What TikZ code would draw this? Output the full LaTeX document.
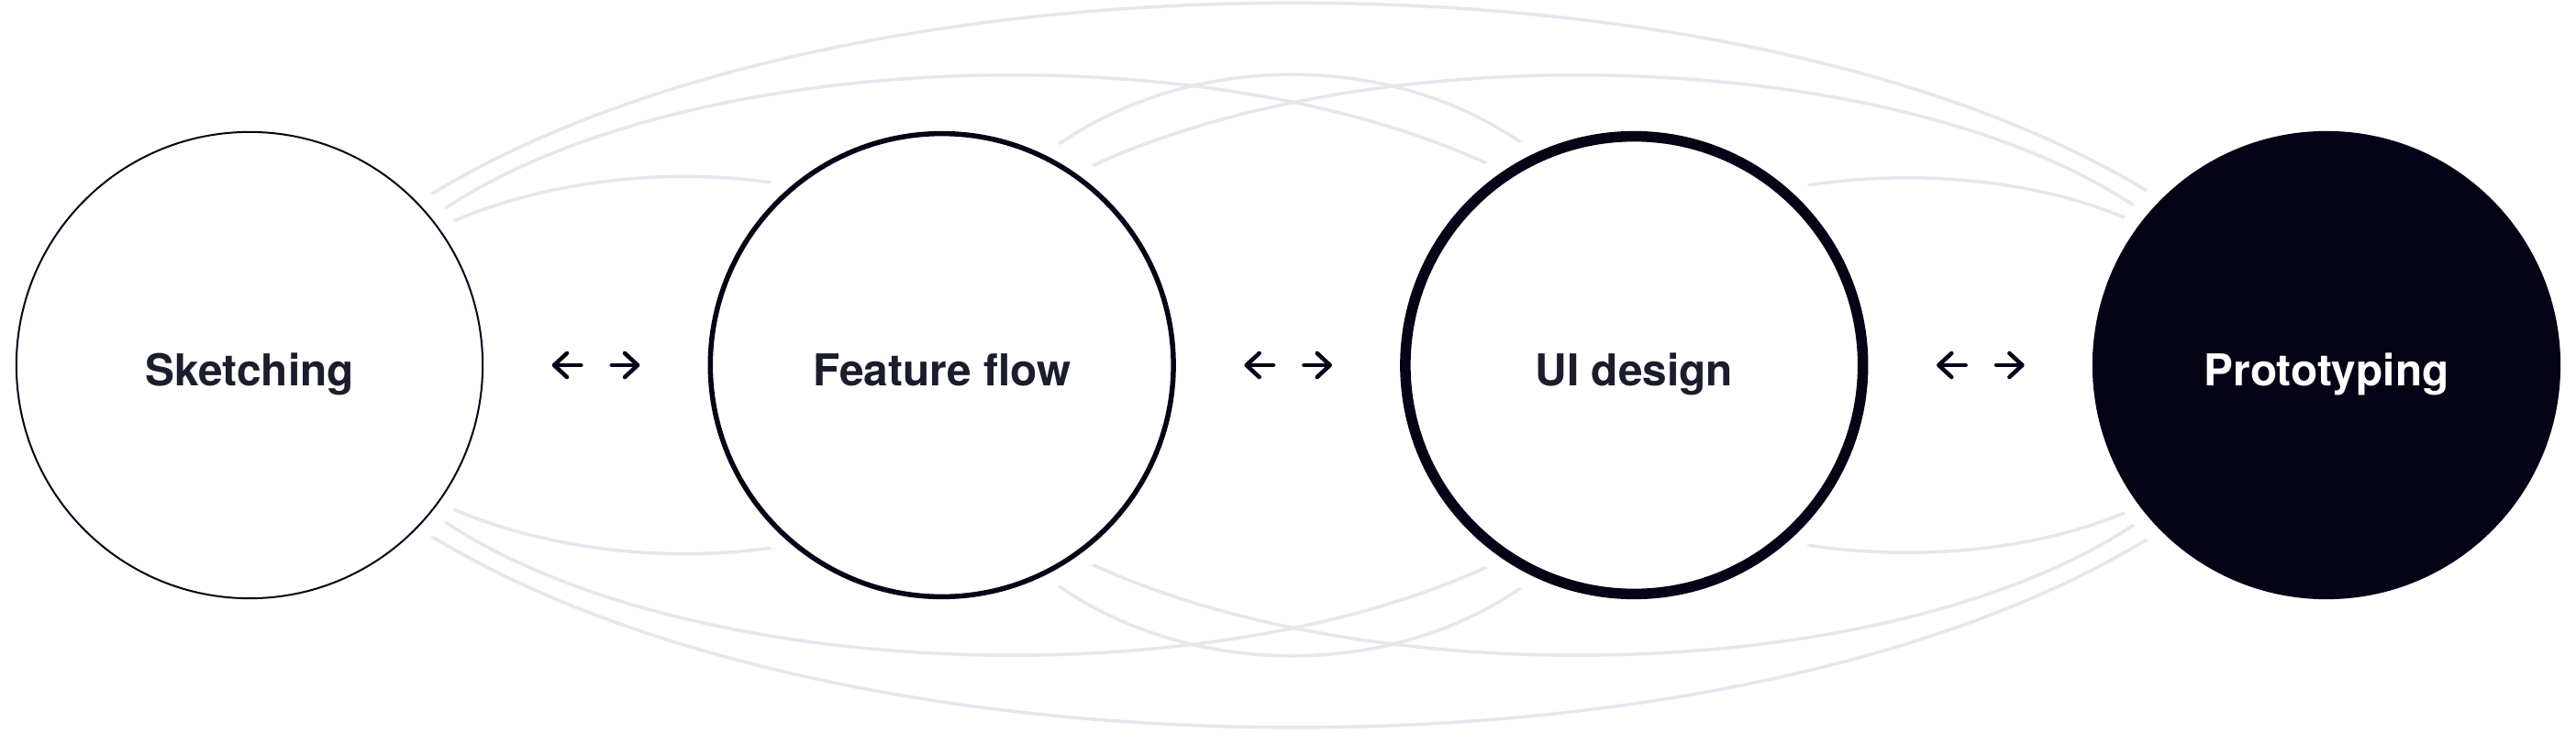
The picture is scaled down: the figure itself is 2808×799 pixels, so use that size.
\documentclass[tikz,border=0pt]{standalone}
\usepackage{fontspec}
\newfontfamily\stagefont{TeX Gyre Heros}
\usetikzlibrary{arrows.meta, backgrounds, calc}

\definecolor{ink}{RGB}{5,3,22}
\definecolor{labelink}{RGB}{27,29,45}
\definecolor{linkgray}{RGB}{230,230,236}

\tikzset{
  stage/.style={circle, inner sep=0pt, fill=white, draw=ink, text=labelink,
    text height=0.44cm, text depth=0pt,
    font=\stagefont\bfseries\fontsize{13.6}{16}\selectfont},
  halo/.style={preaction={draw=white, line width=#1}},
  link/.style={draw=linkgray, line width=0.035cm},
  swap/.style={draw=ink, line width=0.045cm, line cap=round,
    -{Straight Barb[length=0.14cm, width=0.26cm, round]}},
}

% one arc above the stages and its mirror below
\newcommand\linkpair[8]{%
  \draw[link] (#1.#2) .. controls +(#3,#4) and +(#5,#6) .. (#7.#8);
  \draw[link] (#1.-#2) .. controls +(#3,-#4) and +(#5,-#6) .. (#7.-#8);
}

\begin{document}
\begin{tikzpicture}[x=0.01cm, y=0.01cm]
  \useasboundingbox (0,0) rectangle (2808,799);

  % stages
  \node[stage, line width=0.02cm, minimum size=5.08cm, halo=0.37cm] (sk) at (272,401) {Sketching};
  \node[stage, line width=0.055cm, minimum size=5.045cm, halo=0.405cm] (ff) at (1026.7,401) {Feature flow};
  \node[stage, line width=0.115cm, minimum size=4.985cm, halo=0.465cm] (ui) at (1781.3,401) {UI design};
  \node[stage, draw=none, fill=ink, text=white, outer sep=0pt, minimum size=5.1cm, halo=0.35cm] (pr) at (2536,401) {Prototyping};

  % links, behind the stages
  \begin{scope}[on background layer]
    \fill[white] (0,0) rectangle (2808,799);
    \linkpair{sk}{44.6}{451.1}{288}{-451.1}{288}{pr}{135.4}
    \linkpair{sk}{39.8}{253.8}{182.7}{-325.6}{159.8}{ui}{124.7}
    \linkpair{sk}{36.8}{104.7}{49.4}{-132.6}{24.2}{ff}{130.65}
    \linkpair{ff}{64.1}{149.3}{115.4}{-149.3}{115.4}{ui}{115.9}
    \linkpair{ff}{55.3}{325.6}{159.8}{-253.8}{182.7}{pr}{140.2}
    \linkpair{ui}{49.35}{132.6}{24.2}{-104.7}{49.4}{pr}{143.2}
  \end{scope}

  % back and forth between neighbours
  \foreach \a/\b in {sk/ff, ff/ui, ui/pr}{
    \coordinate (gap) at ($(\a)!0.5!(\b)$);
    \draw[swap] ($(gap)+(-16,0)$) -- ($(gap)+(-47.6,0)$);
    \draw[swap] ($(gap)+(17.4,0)$) -- ($(gap)+(48,0)$);
  }
\end{tikzpicture}
\end{document}
